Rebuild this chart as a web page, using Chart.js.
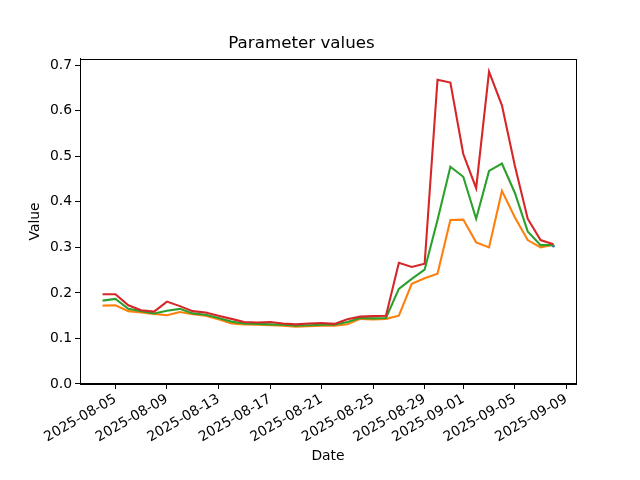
<!DOCTYPE html>
<html>
<head>
<meta charset="utf-8">
<script src="https://cdn.jsdelivr.net/npm/chart.js@4"></script>
<style>
  html, body { margin: 0; padding: 0; background: #fff; }
  #wrap { width: 640px; height: 480px; }
</style>
</head>
<body>
<div id="wrap"><canvas id="chart"></canvas></div>
<script>
// dates, one value per day
const dates = [
  '2025-08-04', '2025-08-05', '2025-08-06', '2025-08-07', '2025-08-08', '2025-08-09',
  '2025-08-10', '2025-08-11', '2025-08-12', '2025-08-13', '2025-08-14', '2025-08-15',
  '2025-08-16', '2025-08-17', '2025-08-18', '2025-08-19', '2025-08-20', '2025-08-21',
  '2025-08-22', '2025-08-23', '2025-08-24', '2025-08-25', '2025-08-26', '2025-08-27',
  '2025-08-28', '2025-08-29', '2025-08-30', '2025-08-31', '2025-09-01', '2025-09-02',
  '2025-09-03', '2025-09-04', '2025-09-05', '2025-09-06', '2025-09-07', '2025-09-08'
];

const orangeValues = [
  0.172, 0.173, 0.160, 0.157, 0.154, 0.151, 0.158, 0.153, 0.150, 0.142, 0.133, 0.131,
  0.130, 0.129, 0.128, 0.126, 0.127, 0.128, 0.128, 0.131, 0.143, 0.142, 0.143, 0.150,
  0.220, 0.232, 0.242, 0.360, 0.361, 0.311, 0.300, 0.424, 0.366, 0.316, 0.300, 0.306
];
const greenValues = [
  0.183, 0.187, 0.165, 0.160, 0.155, 0.161, 0.165, 0.155, 0.152, 0.145, 0.137, 0.133,
  0.132, 0.131, 0.130, 0.128, 0.129, 0.130, 0.130, 0.136, 0.145, 0.144, 0.145, 0.209,
  0.231, 0.251, 0.360, 0.477, 0.455, 0.363, 0.468, 0.484, 0.420, 0.335, 0.305, 0.305
];
const redValues = [
  0.197, 0.197, 0.173, 0.162, 0.159, 0.181, 0.171, 0.160, 0.157, 0.150, 0.143, 0.136,
  0.135, 0.136, 0.133, 0.131, 0.133, 0.134, 0.132, 0.142, 0.148, 0.149, 0.150, 0.266,
  0.257, 0.264, 0.668, 0.662, 0.505, 0.430, 0.686, 0.612, 0.480, 0.363, 0.316, 0.307
];
// blue series only shows as a dot at the last day
const blueDates = ['2025-09-08'];
const blueValues = [0.303];

const xTickLabels = [
  '2025-08-05', '2025-08-09', '2025-08-13', '2025-08-17', '2025-08-21',
  '2025-08-25', '2025-08-29', '2025-09-01', '2025-09-05', '2025-09-09'
];
const yTicks = [0, 0.1, 0.2, 0.3, 0.4, 0.5, 0.6, 0.7];

const DAY = 86400000;
const t0 = Date.parse(dates[0]);
const dayOf = (d) => (Date.parse(d) - t0) / DAY;

const pts = (ds, vs) => ds.map((d, i) => ({ x: dayOf(d), y: vs[i] }));

const lastDay = dayOf(dates[dates.length - 1]);
const xPad = lastDay * 0.05;

// black frame round the plot, like matplotlib spines
const frame = {
  id: 'frame',
  afterDraw(chart) {
    const { ctx, chartArea: a } = chart;
    ctx.save();
    ctx.strokeStyle = '#000';
    ctx.lineWidth = 1;
    ctx.strokeRect(Math.round(a.left) + 0.5, Math.round(a.top) + 0.5,
      Math.round(a.right - a.left), Math.round(a.bottom - a.top));
    ctx.restore();
  }
};

const font = { family: 'DejaVu Sans', size: 13.9 };
const line = (data, color) => ({
  data, borderColor: color, backgroundColor: color,
  borderWidth: 2.1, pointRadius: 0, tension: 0
});

new Chart(document.getElementById('chart'), {
  type: 'line',
  data: {
    datasets: [
      line(pts(dates, redValues), '#d62728'),
      line(pts(dates, greenValues), '#2ca02c'),
      line(pts(dates, orangeValues), '#ff7f0e'),
      { ...line(pts(blueDates, blueValues), '#1f77b4'), pointRadius: 1.5, borderWidth: 0 }
    ]
  },
  options: {
    responsive: true,
    maintainAspectRatio: false,
    animation: false,
    layout: { padding: { left: 27, right: 64, top: 0, bottom: 15 } },
    plugins: {
      legend: { display: false },
      tooltip: { enabled: false },
      title: {
        display: true,
        text: 'Parameter values',
        color: '#000',
        font: { family: 'DejaVu Sans', size: 16.7, weight: 'normal' },
        padding: { top: 34, bottom: 4.8 }
      }
    },
    scales: {
      x: {
        type: 'linear',
        min: -xPad,
        max: lastDay + xPad,
        afterBuildTicks: (axis) => {
          axis.ticks = xTickLabels.map(l => ({ value: dayOf(l) }));
        },
        afterFit: (axis) => { axis.height = 81; },
        grid: { drawOnChartArea: false, drawTicks: true, tickLength: 5, color: '#000' },
        border: { display: true, color: '#000' },
        ticks: {
          color: '#000', font, autoSkip: false,
          minRotation: 30, maxRotation: 30, padding: 2,
          callback: (v) => xTickLabels.find(l => dayOf(l) === v) || ''
        },
        title: { display: true, text: 'Date', color: '#000', font, padding: { top: 4, bottom: 0 } }
      },
      y: {
        min: 0,
        max: 0.714,
        afterBuildTicks: (axis) => {
          axis.ticks = yTicks.map(v => ({ value: v }));
        },
        afterFit: (axis) => { axis.width = 53; },
        grid: { drawOnChartArea: false, drawTicks: true, tickLength: 5, color: '#000' },
        border: { display: true, color: '#000' },
        ticks: { color: '#000', font, padding: 3, callback: (v) => v.toFixed(1) },
        title: { display: true, text: 'Value', color: '#000', font, padding: { top: 0, bottom: 0 } }
      }
    }
  },
  plugins: [frame]
});
</script>
</body>
</html>
